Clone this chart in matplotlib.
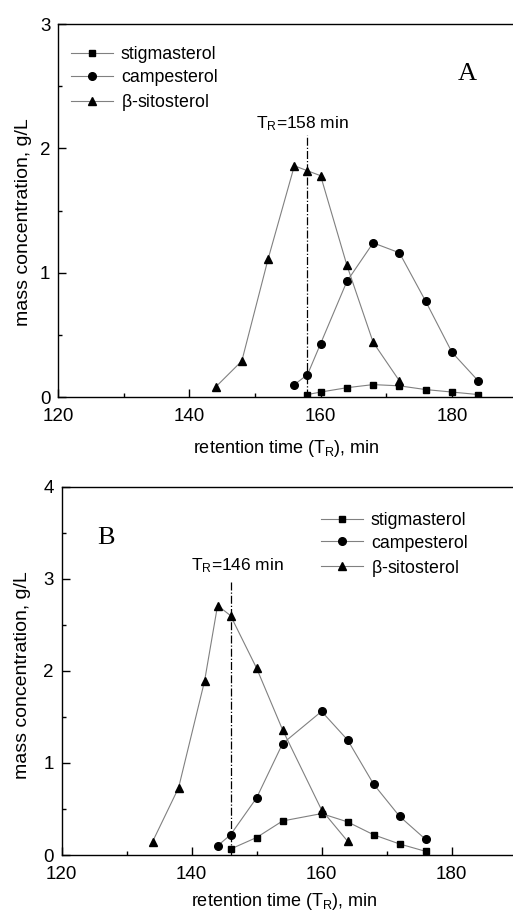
import matplotlib
matplotlib.use('Agg')
import matplotlib.pyplot as plt
from matplotlib.ticker import MultipleLocator

plt.rcParams['font.family'] = ['Liberation Sans', 'DejaVu Sans']
plt.rcParams['mathtext.fontset'] = 'custom'
plt.rcParams['mathtext.rm'] = 'Liberation Sans'

# panel A data
a_stig_t = [158, 160, 164, 168, 172, 176, 180, 184]
a_stig_c = [0.02, 0.04, 0.075, 0.10, 0.09, 0.06, 0.04, 0.02]
a_camp_t = [156, 158, 160, 164, 168, 172, 176, 180, 184]
a_camp_c = [0.10, 0.18, 0.43, 0.93, 1.24, 1.16, 0.77, 0.36, 0.13]
a_sito_t = [144, 148, 152, 156, 158, 160, 164, 168, 172]
a_sito_c = [0.08, 0.29, 1.11, 1.86, 1.82, 1.78, 1.06, 0.44, 0.13]
a_tr = 158

# panel B data
b_stig_t = [146, 150, 154, 160, 164, 168, 172, 176]
b_stig_c = [0.065, 0.19, 0.37, 0.45, 0.36, 0.22, 0.12, 0.04]
b_camp_t = [144, 146, 150, 154, 160, 164, 168, 172, 176]
b_camp_c = [0.10, 0.22, 0.62, 1.21, 1.56, 1.25, 0.77, 0.42, 0.17]
b_sito_t = [134, 138, 142, 144, 146, 150, 154, 160, 164]
b_sito_c = [0.145, 0.73, 1.89, 2.71, 2.60, 2.03, 1.36, 0.49, 0.15]
b_tr = 146

names = ['stigmasterol', 'campesterol', r'$\mathregular{\beta}$-sitosterol']
markers = ['s', 'o', '^']
msizes = [4.5, 5.5, 6.2]

fig = plt.figure(figsize=(5.13, 9.18), dpi=100)
axA = fig.add_axes([0.113, 0.5675, 0.896, 0.4063])
axB = fig.add_axes([0.120, 0.0686, 0.887, 0.4012])


def draw(ax, series, ymax, tr, tr_top, tr_lbl, letter, leg_anchor, xl, yl):
    for (t, c), nm, mk, ms in zip(series, names, markers, msizes):
        ax.plot(t, c, color='#808080', lw=0.8, marker=mk, ms=ms,
                mfc='black', mec='black', label=nm)
    ax.plot([tr, tr], [0, tr_top], color='black', lw=0.9, ls='-.')
    ax.text(tr_lbl[0], tr_lbl[1], r'$\mathregular{T_R}$=%d min' % tr,
            ha='center', va='baseline', fontsize=12.5)
    ax.text(letter[1], letter[2], letter[0], family='Liberation Serif',
            fontsize=19, ha='center', va='center')
    ax.set_xlim(120, 190)
    ax.set_ylim(0, ymax)
    ax.xaxis.set_major_locator(MultipleLocator(20))
    ax.xaxis.set_minor_locator(MultipleLocator(10))
    ax.yaxis.set_major_locator(MultipleLocator(1))
    ax.yaxis.set_minor_locator(MultipleLocator(0.5))
    ax.tick_params(which='both', direction='in', top=False, right=False,
                   labelsize=13.5, width=1)
    ax.tick_params(which='major', length=6)
    ax.tick_params(axis='x', which='major', pad=8)
    ax.tick_params(axis='y', which='major', pad=5.5)
    ax.tick_params(which='minor', length=3)
    for s in ax.spines.values():
        s.set_linewidth(1.0)
    ax.set_xlabel(r'retention time ($\mathregular{T_R}$), min', fontsize=13)
    ax.set_ylabel('mass concentration, g/L', fontsize=14)
    ax.xaxis.set_label_coords(*xl)
    ax.xaxis.label.set_va('center')
    ax.yaxis.set_label_coords(*yl)
    ax.yaxis.label.set_va('center')
    ax.legend(loc='upper left', bbox_to_anchor=leg_anchor, frameon=False,
              fontsize=12.8, borderaxespad=0, borderpad=0, handlelength=2.36,
              handletextpad=0.45, labelspacing=0.33)


draw(axA, [(a_stig_t, a_stig_c), (a_camp_t, a_camp_c), (a_sito_t, a_sito_c)],
     3, a_tr, 2.11, (157.3, 2.16), ('A', 182.4, 2.6), (0.028, 0.94),
     (0.496, -0.137), (-0.076, 0.47))
draw(axB, [(b_stig_t, b_stig_c), (b_camp_t, b_camp_c), (b_sito_t, b_sito_c)],
     4, b_tr, 2.96, (147, 3.09), ('B', 126.8, 3.44), (0.57, 0.932),
     (0.49, -0.127), (-0.085, 0.489))

fig.savefig('out.png', dpi=100)
